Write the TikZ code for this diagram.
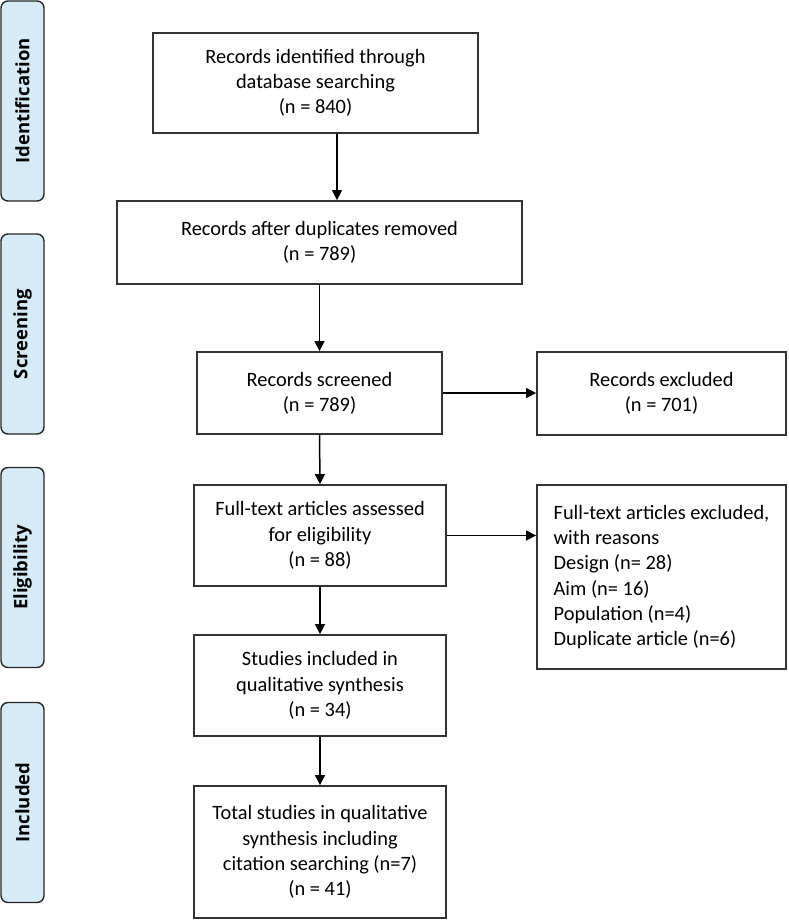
\documentclass[tikz,border=0pt]{standalone}
\usepackage{fontspec}
\setmainfont{Carlito}
\newfontfamily\labelfont{Open Sans}
\usetikzlibrary{arrows.meta,calc}
\definecolor{sidefill}{HTML}{D6EBF8}
\definecolor{boxline}{HTML}{333333}
\begin{document}
\begin{tikzpicture}[x=1pt,y=-1pt,
  flowbox/.style={draw=boxline,line width=1.8pt,inner sep=0pt,align=center,
    font=\fontsize{20.4}{25.2}\selectfont},
  sidebox/.style={draw=black!85,line width=1.4pt,fill=sidefill,rounded corners=7pt,
    inner sep=0pt,minimum width=200pt,minimum height=43pt,rotate=90,
    font=\labelfont\bfseries\fontsize{18.5}{20}\selectfont},
  arr/.style={-{Triangle[length=10pt,width=10pt]},line width=1.5pt,black}]
\useasboundingbox (0,0) rectangle (788,920);
% side labels
\node[sidebox] (s1) at (22.5,101) {Identification};
\node[sidebox] (s2) at (22.5,334) {Screening};
\node[sidebox] (s3) at (22.5,567.5) {Eligibility};
\node[sidebox] (s4) at (22.5,802.5) {Included};
% flow boxes
\node[flowbox,minimum width=325pt,minimum height=100pt] (b1) at (315.5,83)
  {Records identified through\\database searching\\(n = 840)};
\node[flowbox,minimum width=405pt,minimum height=83pt] (b2) at (319.5,242.5)
  {Records after duplicates removed\\(n = 789)};
\node[flowbox,minimum width=245pt,minimum height=82pt] (b3) at (319.5,393)
  {Records screened\\(n = 789)};
\node[flowbox,minimum width=249pt,minimum height=83pt] (e1) at (661.5,393.5)
  {Records excluded\\(n = 701)};
\node[flowbox,minimum width=252pt,minimum height=101pt] (b4) at (320,535.5)
  {Full-text articles assessed\\for eligibility\\(n = 88)};
\node[flowbox,minimum width=249pt,minimum height=184pt,align=left] (e2) at (661.5,577)
  {Full-text articles excluded,\\with reasons\\Design (n= 28)\\Aim (n= 16)\\Population (n=4)\\Duplicate article (n=6)};
\node[flowbox,minimum width=252pt,minimum height=101pt] (b5) at (320,685.5)
  {Studies included in\\qualitative synthesis\\(n = 34)};
\node[flowbox,minimum width=252pt,minimum height=132pt] (b6) at (320,852)
  {Total studies in qualitative\\synthesis including\\citation searching (n=7)\\(n = 41)};
% connectors
\coordinate (c1) at (337,0);
\draw[arr] (b1.south -| c1) -- (b2.north -| c1);
\draw[arr] (b2.south) -- (b3.north);
\draw[arr] (b3.east) -- (b3.east -| e1.west);
\draw[arr] (b3.south) -- (b4.north);
\draw[arr] (b4.east) -- (b4.east -| e2.west);
\draw[arr] (b4.south) -- (b5.north);
\draw[arr] (b5.south) -- (b6.north);
\end{tikzpicture}
\end{document}
